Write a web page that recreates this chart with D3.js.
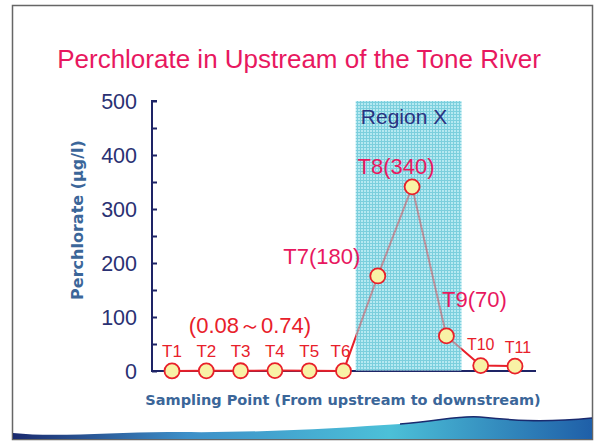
<!DOCTYPE html>
<html>
<head>
<meta charset="utf-8">
<script src="https://cdn.jsdelivr.net/npm/d3@7/dist/d3.min.js"></script>
<style>
  body { margin: 0; background: #fff; }
  svg { display: block; }
</style>
</head>
<body>
<svg width="596" height="441"></svg>
<script>
// data
var points = ['T1', 'T2', 'T3', 'T4', 'T5', 'T6', 'T7', 'T8', 'T9', 'T10', 'T11'];
var values = [0.08, 0.3, 0.5, 0.74, 0.4, 0.2, 176, 341, 65, 10, 9];
var pointLabels = ['T1', 'T2', 'T3', 'T4', 'T5', 'T6', 'T7(180)', 'T8(340)', 'T9(70)', 'T10', 'T11'];
var yTicks = [0, 100, 200, 300, 400, 500];
var regionPoints = ['T7', 'T9'];

var svg = d3.select('svg');
var red = '#e8202a';
var pink = '#e8185f';
var sans = 'Liberation Sans, Arial, sans-serif';
var bold = 'DejaVu Sans, Verdana, sans-serif';

// slide frame
svg.append('rect')
  .attr('x', 12.5).attr('y', 5.5)
  .attr('width', 580).attr('height', 434)
  .attr('fill', '#fff')
  .attr('stroke', '#666')
  .attr('stroke-width', 1.5);

// wave decoration at the bottom
var defs = svg.append('defs');
var grad = defs.append('linearGradient').attr('id', 'wave');
grad.append('stop').attr('offset', '0%').attr('stop-color', '#1a2a6e');
grad.append('stop').attr('offset', '30%').attr('stop-color', '#3d8fc8');
grad.append('stop').attr('offset', '65%').attr('stop-color', '#4cc0d8');
grad.append('stop').attr('offset', '100%').attr('stop-color', '#1f5fa8');
svg.append('path')
  .attr('d', 'M13,433 C60,438 120,431 180,432 C260,433 340,428 400,424 C440,421 460,415 480,417 C510,420 540,423 592,418 L592,439 L13,439 Z')
  .attr('fill', 'url(#wave)');
svg.append('path')
  .attr('d', 'M400,424 C440,421 460,415 480,417 C510,420 540,423 592,418')
  .attr('fill', 'none').attr('stroke', '#1a2a6e').attr('stroke-width', 1.5);

// grid pattern for region
var pat = defs.append('pattern').attr('id', 'grid')
  .attr('width', 3).attr('height', 3)
  .attr('patternUnits', 'userSpaceOnUse');
pat.append('rect').attr('width', 3).attr('height', 3).attr('fill', '#b6e9f1');
pat.append('path').attr('d', 'M0,0.5 H3 M0.5,0 V3')
  .attr('stroke', '#7ccfdd').attr('stroke-width', 1);

// title
svg.append('text')
  .attr('x', 299).attr('y', 68)
  .attr('text-anchor', 'middle')
  .attr('font-family', sans)
  .attr('font-size', 26)
  .attr('fill', pink)
  .text('Perchlorate in Upstream of the Tone River');

// scales
var x = d3.scalePoint().domain(points).range([172, 515]);
var y = d3.scaleLinear().domain([0, 500]).range([371, 101]);

// region X
var rx0 = x(regionPoints[0]) - 22, rx1 = x(regionPoints[1]) + 15;
svg.append('rect')
  .attr('x', rx0).attr('y', y(500))
  .attr('width', rx1 - rx0).attr('height', y(0) - y(500))
  .attr('fill', 'url(#grid)');

// axes
var yAxis = d3.axisRight(y).tickValues(d3.range(0, 501, 50)).tickSize(5).tickFormat('');
var ga = svg.append('g').attr('transform', 'translate(152,0)').call(yAxis);
ga.select('.domain').attr('d', 'M5,' + y(500) + 'H0V' + y(0) + 'H5');
ga.selectAll('path, line').attr('stroke', '#1e2466').attr('stroke-width', 2);

svg.append('line')
  .attr('x1', 152).attr('x2', 536)
  .attr('y1', y(0)).attr('y2', y(0))
  .attr('stroke', '#1e2466').attr('stroke-width', 2);

svg.selectAll('.ytick')
  .data(yTicks)
  .enter().append('text')
  .attr('class', 'ytick')
  .attr('x', 137)
  .attr('y', function(d) { return y(d) + 7.5; })
  .attr('text-anchor', 'end')
  .attr('font-family', sans)
  .attr('font-size', 21.5)
  .attr('fill', '#2a3173')
  .text(function(d) { return d; });

svg.append('text')
  .attr('transform', 'translate(83,' + 220 + ') rotate(-90)')
  .attr('text-anchor', 'middle')
  .attr('font-family', bold)
  .attr('font-weight', 'bold')
  .attr('font-size', 16)
  .attr('fill', '#3b6699')
  .text('Perchlorate (\u03bcg/l)');

svg.append('text')
  .attr('x', 343).attr('y', 405)
  .attr('text-anchor', 'middle')
  .attr('font-family', bold)
  .attr('font-weight', 'bold')
  .attr('font-size', 14.5)
  .attr('fill', '#3b6699')
  .text('Sampling Point (From upstream to downstream)');

// line
var line = d3.line()
  .x(function(d, i) { return x(points[i]); })
  .y(function(d) { return y(d); });
svg.append('path')
  .datum(values)
  .attr('d', line)
  .attr('fill', 'none')
  .attr('stroke', red)
  .attr('stroke-width', 2);

// region overlay dims the line inside it
svg.append('rect')
  .attr('x', rx0).attr('y', y(500))
  .attr('width', rx1 - rx0).attr('height', y(0) - y(500))
  .attr('fill', 'url(#grid)')
  .attr('opacity', 0.6);

svg.append('text')
  .attr('x', rx0 + 5).attr('y', y(500) + 23)
  .attr('font-family', sans)
  .attr('font-size', 21)
  .attr('fill', '#2a3380')
  .text('Region X');

// points
svg.selectAll('.pt')
  .data(values)
  .enter().append('circle')
  .attr('class', 'pt')
  .attr('cx', function(d, i) { return x(points[i]); })
  .attr('cy', function(d) { return y(d); })
  .attr('r', 7.5)
  .attr('fill', '#f8f2a6')
  .attr('stroke', red)
  .attr('stroke-width', 1.8);

// point labels
var labelPos = [
  [0, -14, 17, red], [0, -14, 17, red], [0, -14, 17, red], [0, -14, 17, red],
  [0, -14, 17, red], [-3, -14, 17, red],
  [-56, -12, 22, pink], [-16, -13, 22, pink], [28, -29, 22, pink],
  [0, -16, 16, red], [3, -13, 16, red]
];
svg.selectAll('.plabel')
  .data(pointLabels)
  .enter().append('text')
  .attr('class', 'plabel')
  .attr('x', function(d, i) { return x(points[i]) + labelPos[i][0]; })
  .attr('y', function(d, i) { return y(values[i]) + labelPos[i][1]; })
  .attr('text-anchor', 'middle')
  .attr('font-family', sans)
  .attr('font-size', function(d, i) { return labelPos[i][2]; })
  .attr('fill', function(d, i) { return labelPos[i][3]; })
  .text(function(d) { return d; });

svg.append('text')
  .attr('x', 250).attr('y', 333)
  .attr('text-anchor', 'middle')
  .attr('font-family', sans)
  .attr('font-size', 22)
  .attr('fill', red)
  .text('(0.08\uff5e0.74)');
</script>
</body>
</html>
